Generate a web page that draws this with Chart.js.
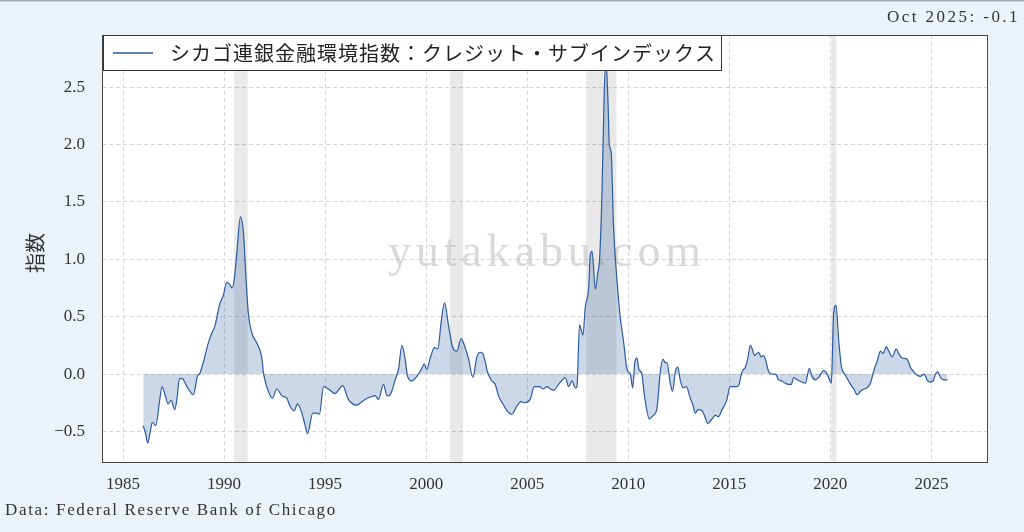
<!DOCTYPE html>
<html>
<head>
<meta charset="utf-8">
<script src="https://cdn.jsdelivr.net/npm/chart.js@4.4.1/dist/chart.umd.min.js"></script>
<style>
  html, body { margin: 0; padding: 0; background: #eaf2fa; }
  canvas { display: block; }
</style>
</head>
<body>
<canvas id="c" width="1024" height="532"></canvas>
<script>
// ---- Data (decimal year, index value) ----
const dates = [
  1986.00,1986.12,1986.22,1986.35,1986.45,1986.62,1986.80,1986.93,1987.08,1987.23,1987.38,1987.56,1987.68,1987.79,1987.94,
  1988.08,1988.23,1988.48,1988.68,1988.81,1989.00,1989.22,1989.40,1989.55,1989.77,1989.97,1990.13,1990.28,1990.40,1990.50,
  1990.63,1990.81,1990.96,1991.07,1991.20,1991.37,1991.62,1991.86,1991.95,1992.08,1992.19,1992.39,1992.61,1992.86,1993.10,
  1993.27,1993.47,1993.63,1993.85,1994.00,1994.13,1994.39,1994.59,1994.72,1994.92,1995.16,1995.50,1995.70,1995.87,1996.15,
  1996.56,1996.90,1997.23,1997.48,1997.64,1997.89,1998.06,1998.22,1998.47,1998.63,1998.80,1998.96,1999.08,1999.29,1999.54,
  1999.79,1999.90,2000.03,2000.20,2000.41,2000.58,2000.74,2000.91,2001.11,2001.32,2001.52,2001.73,2001.85,2002.10,2002.31,
  2002.51,2002.67,2002.80,2002.92,2003.03,2003.25,2003.42,2003.58,2003.83,2004.00,2004.24,2004.49,2004.69,2004.90,2005.15,
  2005.35,2005.61,2005.78,2005.98,2006.14,2006.31,2006.55,2006.80,2006.88,2007.05,2007.21,2007.38,2007.46,2007.59,2007.76,
  2007.87,2008.04,2008.12,2008.21,2008.37,2008.49,2008.58,2008.70,2008.81,2008.90,2009.00,2009.06,2009.16,2009.27,2009.44,
  2009.60,2009.77,2009.94,2010.10,2010.22,2010.33,2010.43,2010.53,2010.66,2010.81,2011.04,2011.23,2011.42,2011.58,2011.71,
  2011.83,2011.91,2012.08,2012.19,2012.33,2012.45,2012.57,2012.71,2012.87,2013.07,2013.20,2013.32,2013.45,2013.65,2013.81,
  2013.93,2014.10,2014.31,2014.47,2014.64,2014.85,2015.05,2015.30,2015.46,2015.63,2015.79,2015.91,2016.04,2016.15,2016.25,
  2016.45,2016.57,2016.70,2016.78,2016.95,2017.11,2017.28,2017.44,2017.61,2017.77,2017.94,2018.07,2018.18,2018.35,2018.60,
  2018.76,2018.96,2019.09,2019.26,2019.42,2019.67,2019.84,2020.05,2020.16,2020.28,2020.41,2020.55,2020.71,2021.00,2021.16,
  2021.33,2021.49,2021.66,2021.82,2021.98,2022.15,2022.31,2022.48,2022.61,2022.77,2022.89,2023.06,2023.26,2023.38,2023.55,
  2023.80,2023.96,2024.13,2024.30,2024.46,2024.63,2024.79,2024.92,2025.09,2025.20,2025.31,2025.45,2025.61,2025.79
];
const values = [
  -0.45,-0.52,-0.60,-0.50,-0.42,-0.45,-0.25,-0.11,-0.18,-0.26,-0.23,-0.31,-0.20,-0.04,-0.04,
  -0.08,-0.13,-0.18,-0.02,0.01,0.12,0.27,0.36,0.42,0.60,0.69,0.80,0.78,0.75,0.82,
  1.05,1.37,1.23,0.88,0.53,0.36,0.27,0.15,0.01,-0.09,-0.15,-0.21,-0.13,-0.19,-0.21,
  -0.28,-0.32,-0.26,-0.34,-0.44,-0.52,-0.34,-0.34,-0.35,-0.11,-0.13,-0.17,-0.13,-0.10,-0.22,
  -0.27,-0.23,-0.20,-0.19,-0.22,-0.09,-0.19,-0.18,-0.05,0.04,0.25,0.13,-0.02,-0.06,-0.02,
  0.05,0.09,0.04,0.14,0.23,0.22,0.45,0.62,0.42,0.23,0.20,0.31,0.27,0.13,-0.03,
  0.15,0.19,0.18,0.11,0.02,-0.06,-0.09,-0.19,-0.27,-0.32,-0.35,-0.28,-0.24,-0.25,-0.22,
  -0.11,-0.11,-0.13,-0.11,-0.13,-0.14,-0.09,-0.04,-0.03,-0.11,-0.06,-0.12,-0.11,0.43,0.34,
  0.58,0.75,1.04,1.07,0.74,0.88,1.00,1.58,2.45,2.72,2.36,2.01,1.92,1.29,0.82,
  0.50,0.28,0.04,0.00,-0.12,0.11,0.14,0.04,0.01,-0.20,-0.39,-0.36,-0.30,0.01,0.13,
  0.10,0.10,-0.08,-0.15,0.02,0.06,-0.05,-0.12,-0.11,-0.21,-0.27,-0.34,-0.31,-0.32,-0.38,
  -0.43,-0.40,-0.36,-0.37,-0.31,-0.24,-0.11,-0.11,-0.10,0.02,0.06,0.13,0.25,0.21,0.16,
  0.19,0.15,0.16,0.13,0.02,0.00,0.00,-0.05,-0.06,-0.08,-0.09,-0.09,-0.03,-0.05,-0.07,
  -0.08,0.05,-0.02,-0.05,-0.03,0.03,0.00,-0.08,0.53,0.60,0.30,0.06,0.00,-0.09,-0.13,
  -0.18,-0.15,-0.13,-0.12,-0.08,0.03,0.11,0.20,0.18,0.24,0.20,0.15,0.22,0.18,0.14,
  0.13,0.06,0.02,-0.01,-0.02,0.00,-0.05,-0.07,-0.06,0.00,0.02,-0.03,-0.05,-0.05
];
const xTicks = [1985, 1990, 1995, 2000, 2005, 2010, 2015, 2020, 2025];
const yTicks = [-0.5, 0.0, 0.5, 1.0, 1.5, 2.0, 2.5];
const recessionStart = [1990.50, 2001.17, 2007.92, 2020.05];
const recessionEnd   = [1991.17, 2001.83, 2009.42, 2020.30];
const seriesLabel = 'シカゴ連銀金融環境指数：クレジット・サブインデックス';
const yTitle = '指数';
const latestNote = 'Oct 2025: -0.1';
const sourceNote = 'Data: Federal Reserve Bank of Chicago';
const watermark = 'yutakabu.com';

const LINE = '#2a5b9f';
const SERIF = '"Liberation Serif", "DejaVu Serif", serif';
const JP = '"Noto Sans CJK JP", "Noto Sans", sans-serif';

// draw text stretched by letter spacing to a target width
function fitText(ctx, text, x, y, width, align) {
  ctx.letterSpacing = '0px';
  const w = ctx.measureText(text).width;
  const n = [...text].length;
  const ls = Math.max(0, (width - w) / n);
  ctx.letterSpacing = ls.toFixed(2) + 'px';
  let x0 = x;
  if (align === 'right') x0 = x - width;
  else if (align === 'center') x0 = x - width / 2;
  ctx.textAlign = 'left';
  ctx.fillText(text, x0, y);
  ctx.letterSpacing = '0px';
}

const deco = {
  id: 'deco',
  beforeDraw(chart) {
    const ctx = chart.ctx, a = chart.chartArea;
    ctx.save();
    ctx.fillStyle = '#eaf2fa';
    ctx.fillRect(0, 0, chart.width, chart.height);
    ctx.fillStyle = '#a3a9b0';
    ctx.fillRect(0, 0, chart.width, 1.5);
    ctx.fillStyle = '#ffffff';
    ctx.fillRect(a.left, a.top, a.right - a.left, a.bottom - a.top);
    ctx.restore();
  },
  beforeDatasetsDraw(chart) {
    const ctx = chart.ctx, a = chart.chartArea, xs = chart.scales.x;
    ctx.save();
    ctx.fillStyle = 'rgba(0,0,0,0.085)';
    for (let i = 0; i < recessionStart.length; i++) {
      const x0 = xs.getPixelForValue(recessionStart[i]);
      const x1 = xs.getPixelForValue(recessionEnd[i]);
      ctx.fillRect(x0, a.top, x1 - x0, a.bottom - a.top);
    }
    ctx.font = '46px ' + SERIF;
    ctx.fillStyle = 'rgba(185,185,185,0.55)';
    ctx.textBaseline = 'alphabetic';
    fitText(ctx, watermark, 547, 266, 318, 'center');
    ctx.restore();
  },
  afterDatasetsDraw(chart) {
    const ctx = chart.ctx, a = chart.chartArea;
    ctx.save();
    // frame
    ctx.strokeStyle = '#444';
    ctx.lineWidth = 1;
    ctx.strokeRect(a.left + 0.5, a.top + 0.5, a.right - a.left - 1, a.bottom - a.top - 1);
    // legend box
    const lx = a.left + 1, ly = a.top, lw = 619, lh = 36;
    ctx.fillStyle = '#ffffff';
    ctx.fillRect(lx, ly, lw, lh);
    ctx.strokeStyle = '#333';
    ctx.strokeRect(lx + 0.5, ly + 0.5, lw - 1, lh - 1);
    ctx.strokeStyle = LINE;
    ctx.lineWidth = 1.3;
    ctx.beginPath();
    ctx.moveTo(lx + 10, ly + 18);
    ctx.lineTo(lx + 50, ly + 18);
    ctx.stroke();
    ctx.fillStyle = '#222';
    ctx.font = '20px ' + JP;
    ctx.textBaseline = 'middle';
    fitText(ctx, seriesLabel, lx + 67, ly + 18, 546, 'left');
    // y title
    ctx.save();
    ctx.translate(35, 253);
    ctx.rotate(-Math.PI / 2);
    ctx.textAlign = 'center';
    ctx.fillStyle = '#333';
    ctx.font = '20px ' + JP;
    ctx.fillText(yTitle, 0, 0);
    ctx.restore();
    // notes
    ctx.fillStyle = '#333';
    ctx.font = '17px ' + SERIF;
    ctx.textBaseline = 'middle';
    fitText(ctx, latestNote, 1020, 18, 133, 'right');
    ctx.font = '17px ' + SERIF;
    fitText(ctx, sourceNote, 5, 511, 332, 'left');
    ctx.restore();
  }
};

new Chart(document.getElementById('c'), {
  type: 'line',
  data: {
    datasets: [{
      label: seriesLabel,
      data: dates.map((d, i) => ({ x: d, y: values[i] })),
      borderColor: LINE,
      borderWidth: 1.2,
      backgroundColor: 'rgba(42,91,159,0.24)',
      fill: 'origin',
      pointRadius: 0,
      tension: 0,
      cubicInterpolationMode: 'monotone'
    }]
  },
  options: {
    responsive: false,
    animation: false,
    devicePixelRatio: 1,
    layout: { padding: { left: 0, right: 36, top: 35, bottom: 0 } },
    plugins: { legend: { display: false }, tooltip: { enabled: false }, title: { display: false } },
    scales: {
      x: {
        type: 'linear',
        min: 1983.96,
        max: 2027.8,
        afterBuildTicks: (axis) => { axis.ticks = xTicks.map(v => ({ value: v })); },
        afterFit: (s) => { s.height = 69; },
        grid: { color: '#d6d6d6', lineWidth: 1, drawTicks: false },
        border: { display: false, dash: [4, 3] },
        ticks: {
          padding: 11,
          color: '#333',
          font: { family: SERIF, size: 17 },
          maxRotation: 0,
          callback: (v) => String(v)
        }
      },
      y: {
        min: -0.775,
        max: 2.955,
        afterBuildTicks: (axis) => { axis.ticks = yTicks.map(v => ({ value: v })); },
        afterFit: (s) => { s.width = 102; },
        grid: { color: '#d6d6d6', lineWidth: 1, drawTicks: false },
        border: { display: false, dash: [4, 3] },
        ticks: {
          padding: 17,
          color: '#333',
          font: { family: SERIF, size: 17 },
          callback: (v) => v.toFixed(1).replace('-', '\u2212')
        }
      }
    }
  },
  plugins: [deco]
});
</script>
</body>
</html>
